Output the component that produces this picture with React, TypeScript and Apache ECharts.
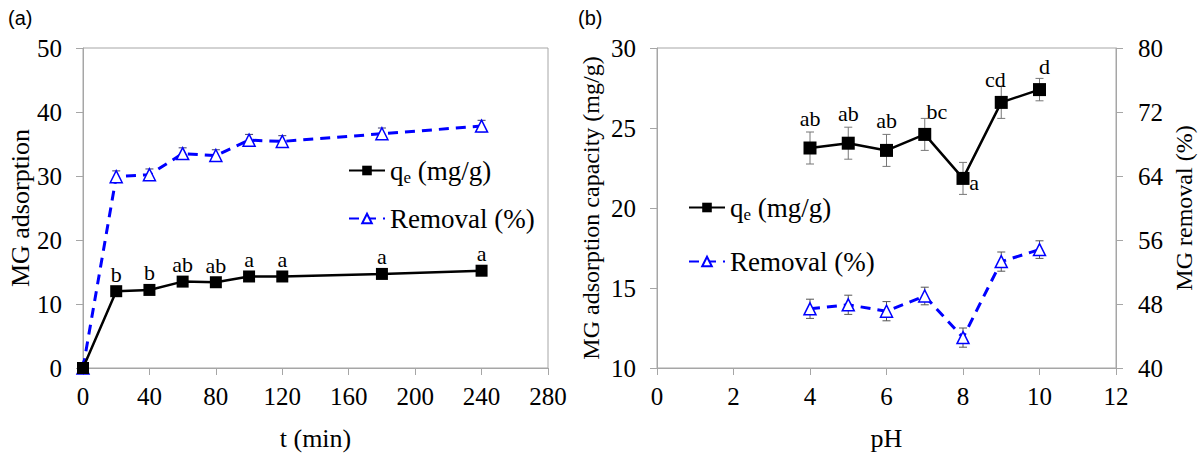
import React, { useEffect, useRef } from "react";
import * as echarts from "echarts";

// ---- Panel (a): kinetics ----
const tTime = [0, 20, 40, 60, 80, 100, 120, 180, 240];
const qeTime = [0, 12.0, 12.2, 13.5, 13.4, 14.3, 14.3, 14.7, 15.2];
const qeTimeErr = [0.2, 0.4, 0.4, 0.4, 0.4, 0.4, 0.4, 0.4, 0.4];
const removalTime = [0, 29.9, 30.2, 33.5, 33.2, 35.6, 35.4, 36.6, 37.8];
const removalTimeErr = [0.3, 0.9, 0.9, 0.9, 0.9, 0.9, 0.9, 0.9, 0.9];
const lettersTime = ["", "b", "b", "ab", "ab", "a", "a", "a", "a"];

// ---- Panel (b): pH ----
const pHValues = [4, 5, 6, 7, 8, 9, 10];
const qePH = [23.75, 24.05, 23.6, 24.6, 21.85, 26.6, 27.4];
const qePHErr = [1.0, 1.0, 1.0, 1.0, 1.0, 1.0, 0.7];
const removalPH = [47.4, 47.9, 47.1, 49.0, 43.8, 53.3, 54.8];
const removalPHErr = [1.2, 1.2, 1.2, 1.1, 1.2, 1.2, 1.1];
const lettersPH = ["ab", "ab", "ab", "bc", "a", "cd", "d"];

// label placement (styling, kept separate from data)
const pHLetterOffsets: number[][] = [
  [0, -30], [0, -30], [0, -30], [12, -23], [11, 4], [-6, -23], [5, -23],
];

const SERIF = "Liberation Serif";
const AXIS_GRAY = "#a6a6a6";
const BLUE = "#0000ff";

function errorSeries(name: string, xs: number[], ys: number[], errs: number[], xi: number, yi: number, color: string) {
  return {
    type: "custom",
    name,
    xAxisIndex: xi,
    yAxisIndex: yi,
    z: 1,
    silent: true,
    data: xs.map((x, i) => [x, ys[i] - errs[i], ys[i] + errs[i]]),
    renderItem: (params: any, api: any) => {
      const x = api.value(0);
      const lo = api.coord([x, api.value(1)]);
      const hi = api.coord([x, api.value(2)]);
      const cap = 4;
      const style = { stroke: color, lineWidth: 1 };
      return {
        type: "group",
        children: [
          { type: "line", shape: { x1: lo[0], y1: lo[1], x2: hi[0], y2: hi[1] }, style },
          { type: "line", shape: { x1: hi[0] - cap, y1: hi[1], x2: hi[0] + cap, y2: hi[1] }, style },
          { type: "line", shape: { x1: lo[0] - cap, y1: lo[1], x2: lo[0] + cap, y2: lo[1] }, style },
        ],
      };
    },
  };
}

const legendFormatter = (name: string) =>
  name.startsWith("qe") ? "{n|q}{s|e}{n| (mg/g)}" : "{n|Removal (%)}";

function legendTextStyle() {
  return {
    fontFamily: SERIF,
    fontSize: 27,
    color: "#000",
    rich: {
      n: { fontFamily: SERIF, fontSize: 27, color: "#000" },
      s: { fontFamily: SERIF, fontSize: 17, color: "#000", padding: [14, 0, 0, 0] },
    },
  };
}

function makeAxis(extra: any) {
  return {
    type: "value",
    axisLine: { show: true, lineStyle: { color: AXIS_GRAY, width: 1 } },
    axisTick: { show: true, length: 7, lineStyle: { color: AXIS_GRAY } },
    splitLine: { show: false },
    nameLocation: "middle",
    ...extra,
    axisLabel: { fontFamily: SERIF, fontSize: 25, color: "#000", margin: extra.labelMargin },
    nameTextStyle: { fontFamily: SERIF, fontSize: extra.nameSize, color: "#000" },
  };
}

const panelTag: React.CSSProperties = {
  position: "fixed", top: 6, fontFamily: "'Liberation Sans', Arial, sans-serif",
  fontSize: 20, lineHeight: "24px", color: "#000", zIndex: 2,
};

export default function App() {
  const ref = useRef<HTMLDivElement>(null);
  useEffect(() => {
    if (!ref.current) return;
    const chart = echarts.init(ref.current, undefined, { renderer: "svg" });
    const option: any = {
      animation: false,
      backgroundColor: "#fff",
      grid: [
        { left: 83, top: 48, width: 465, height: 323, show: true, borderColor: AXIS_GRAY, borderWidth: 1, backgroundColor: "transparent" },
        { left: 657, top: 48, width: 459, height: 323, show: true, borderColor: AXIS_GRAY, borderWidth: 1, backgroundColor: "transparent" },
      ],
      xAxis: [
        makeAxis({ gridIndex: 0, min: 0, max: 280, interval: 40, name: "t (min)", nameGap: 57, nameSize: 26, labelMargin: 16 }),
        makeAxis({ gridIndex: 1, min: 0, max: 12, interval: 2, name: "pH", nameGap: 57, nameSize: 26, labelMargin: 16 }),
      ],
      yAxis: [
        makeAxis({ gridIndex: 0, min: 0, max: 50, interval: 10, name: "MG adsorption", nameGap: 50, nameSize: 26, labelMargin: 21 }),
        makeAxis({ gridIndex: 1, min: 10, max: 30, interval: 5, name: "MG adsorption capacity (mg/g)", nameGap: 54, nameSize: 24, labelMargin: 21 }),
        makeAxis({ gridIndex: 1, position: "right", min: 40, max: 80, interval: 8, name: "MG removal (%)", nameGap: 56, nameRotate: 90, nameSize: 24, labelMargin: 22 }),
      ],
      legend: [
        {
          data: ["qe_t", "rem_t"], orient: "vertical", left: 343, top: 152, itemGap: 19,
          itemWidth: 36, itemHeight: 12, formatter: legendFormatter,
          textStyle: legendTextStyle(), selectedMode: false,
        },
        {
          data: ["qe_pH", "rem_pH"], orient: "vertical", left: 683, top: 189, itemGap: 25,
          itemWidth: 36, itemHeight: 12, formatter: legendFormatter,
          textStyle: legendTextStyle(), selectedMode: false,
        },
      ],
      series: [
        errorSeries("err_rem_t", tTime, removalTime, removalTimeErr, 0, 0, "#3a3a6a"),
        errorSeries("err_qe_t", tTime, qeTime, qeTimeErr, 0, 0, "#555"),
        {
          name: "rem_t", type: "line", xAxisIndex: 0, yAxisIndex: 0, z: 2,
          data: tTime.map((t, i) => [t, removalTime[i]]),
          symbol: "triangle", symbolSize: 12,
          itemStyle: { color: "#fff", borderColor: BLUE, borderWidth: 1.5 },
          lineStyle: { color: BLUE, width: 3, type: [10, 7] },
        },
        {
          name: "qe_t", type: "line", xAxisIndex: 0, yAxisIndex: 0, z: 3,
          data: tTime.map((t, i) => ({
            value: [t, qeTime[i]],
            label: {
              show: lettersTime[i] !== "", formatter: lettersTime[i], position: "inside",
              offset: [0, -17], color: "#000", fontFamily: SERIF, fontSize: 22,
            },
          })),
          symbol: "rect", symbolSize: 12,
          itemStyle: { color: "#000" },
          lineStyle: { color: "#000", width: 2.5 },
        },
        errorSeries("err_rem_pH", pHValues, removalPH, removalPHErr, 1, 2, "#555"),
        errorSeries("err_qe_pH", pHValues, qePH, qePHErr, 1, 1, "#777"),
        {
          name: "rem_pH", type: "line", xAxisIndex: 1, yAxisIndex: 2, z: 2,
          data: pHValues.map((p, i) => [p, removalPH[i]]),
          symbol: "triangle", symbolSize: 12,
          itemStyle: { color: "#fff", borderColor: BLUE, borderWidth: 1.5 },
          lineStyle: { color: BLUE, width: 3, type: [10, 7] },
        },
        {
          name: "qe_pH", type: "line", xAxisIndex: 1, yAxisIndex: 1, z: 3,
          data: pHValues.map((p, i) => ({
            value: [p, qePH[i]],
            label: {
              show: true, formatter: lettersPH[i], position: "inside",
              offset: pHLetterOffsets[i], color: "#000", fontFamily: SERIF, fontSize: 22,
            },
          })),
          symbol: "rect", symbolSize: 13,
          itemStyle: { color: "#000" },
          lineStyle: { color: "#000", width: 2.5 },
        },
      ],
    };
    chart.setOption(option);
    return () => chart.dispose();
  }, []);
  return (
    <>
      <div
        ref={ref}
        style={{ position: "fixed", left: 0, top: 0, width: 1198, height: 456, background: "#fff" }}
      />
      <div style={{ ...panelTag, left: 8 }}>(a)</div>
      <div style={{ ...panelTag, left: 578 }}>(b)</div>
    </>
  );
}
